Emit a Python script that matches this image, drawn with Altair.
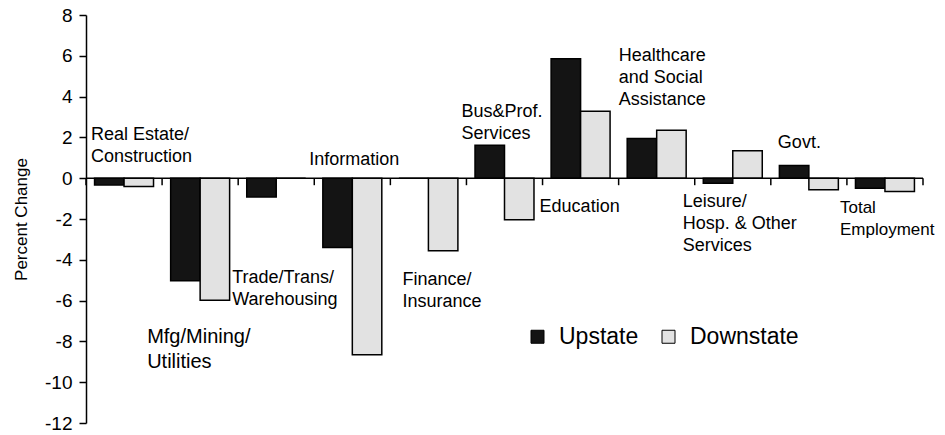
import altair as alt
import pandas as pd

categories = ["Real Estate/Construction", "Mfg/Mining/Utilities", "Trade/Trans/Warehousing",
              "Information", "Finance/Insurance", "Bus&Prof. Services", "Education",
              "Healthcare and Social Assistance", "Leisure/Hosp. & Other Services",
              "Govt.", "Total Employment"]
upstate = [-0.33, -5.03, -0.92, -3.40, 0.0, 1.62, 5.85, 1.95, -0.25, 0.62, -0.49]
downstate = [-0.41, -5.98, 0.0, -8.66, -3.56, -2.04, 3.28, 2.35, 1.34, -0.57, -0.65]
series = ["Upstate", "Downstate"]
y_ticks = [-12, -10, -8, -6, -4, -2, 0, 2, 4, 6, 8]

# annotation labels (text, anchor value on the y scale, horizontal nudge in px, font size)
label_text = ["Real Estate/\nConstruction", "Mfg/Mining/\nUtilities", "Trade/Trans/\nWarehousing",
              "Information", "Finance/\nInsurance", "Bus&Prof.\nServices", "Education",
              "Healthcare\nand Social\nAssistance", "Leisure/\nHosp. & Other\nServices",
              "Govt.", "Total\nEmployment"]
label_y = [1.87, -8.06, -5.15, 0.65, -5.24, 2.99, -1.64, 5.76, -1.40, 1.47, -1.69]
label_dx = [-33, -53, -44, -43, -26, -43, -41, -38, -50, -31, -45]
label_size = [18, 20, 18, 18, 18, 18, 18, 18, 18, 18, 17]

FONT = "Liberation Sans"

rows = []
for c, u, d in zip(categories, upstate, downstate):
    rows.append({"cat": c, "series": "Upstate", "value": u})
    rows.append({"cat": c, "series": "Downstate", "value": d})
bars_df = pd.DataFrame(rows)
lab_df = pd.DataFrame({"cat": categories, "text": label_text, "y": label_y,
                       "dx": label_dx, "size": label_size})

xband = alt.Scale(domain=categories, paddingInner=0.225, paddingOuter=0.1125)
yscale = alt.Scale(domain=[-12, 8], nice=False, zero=False)

yaxis = alt.Axis(values=y_ticks, grid=False, domainColor="black", domainWidth=1.5,
                 tickColor="black", tickWidth=1.5, tickSize=7, labelFontSize=19,
                 labelFont=FONT, labelColor="black", labelPadding=7,
                 labelExpr="'' + datum.value",
                 title="Percent Change", titleFont=FONT, titleFontSize=17,
                 titleFontWeight="normal", titleColor="black", titlePadding=14)

bars = alt.Chart(bars_df).mark_bar(stroke="black", strokeWidth=1.5).encode(
    x=alt.X("cat:N", scale=xband, axis=None, sort=categories),
    xOffset=alt.XOffset("series:N", scale=alt.Scale(domain=series), sort=series),
    y=alt.Y("value:Q", scale=yscale, axis=yaxis),
    fill=alt.Fill("series:N", scale=alt.Scale(domain=series, range=["#141414", "#e2e2e2"]),
                  legend=alt.Legend(orient="none", legendX=440, legendY=310, direction="horizontal",
                                    title=None, symbolType="square", symbolSize=169,
                                    symbolStrokeColor="black", symbolStrokeWidth=1,
                                    labelFont=FONT, labelFontSize=23, labelColor="black",
                                    labelOffset=10, columnPadding=18, padding=0)),
)

# zero line (category axis)
zero_line = alt.Chart(pd.DataFrame({"z": [0]})).mark_rule(color="black", strokeWidth=1.5).encode(
    y=alt.Y("z:Q", scale=yscale)
)

# category boundary ticks hanging below the zero line
boundaries = list(range(len(categories) + 1))
tick_layer = alt.Chart(pd.DataFrame({"b": boundaries, "z": [0] * len(boundaries)})).mark_tick(
    orient="vertical", size=7, thickness=1.5, yOffset=3.5, color="black", opacity=1
).encode(
    x=alt.X("b:Q", scale=alt.Scale(domain=[0, len(categories)], nice=False, zero=False), axis=None),
    y=alt.Y("z:Q", scale=yscale),
)

layers = [tick_layer, bars, zero_line]
for i, row in lab_df.iterrows():
    size = int(row["size"])
    lh = 25 if size >= 20 else 22
    layers.append(
        alt.Chart(lab_df.iloc[[i]]).mark_text(align="left", baseline="alphabetic", font=FONT,
                                              fontSize=size, lineBreak="\n", lineHeight=lh,
                                              color="black", dx=int(row["dx"])).encode(
            x=alt.X("cat:N", scale=xband, axis=None, sort=categories),
            y=alt.Y("y:Q", scale=yscale),
            text="text:N",
        )
    )

chart = alt.layer(*layers).resolve_scale(x="independent").properties(
    width=837, height=408,
    autosize=alt.AutoSizeParams(type="none"),
    padding={"left": 78, "top": 7, "right": 14, "bottom": 12},
).configure(background="white").configure_view(strokeWidth=0, stroke="transparent")

chart.save("out.html", embed_options={"renderer": "svg", "actions": False})
